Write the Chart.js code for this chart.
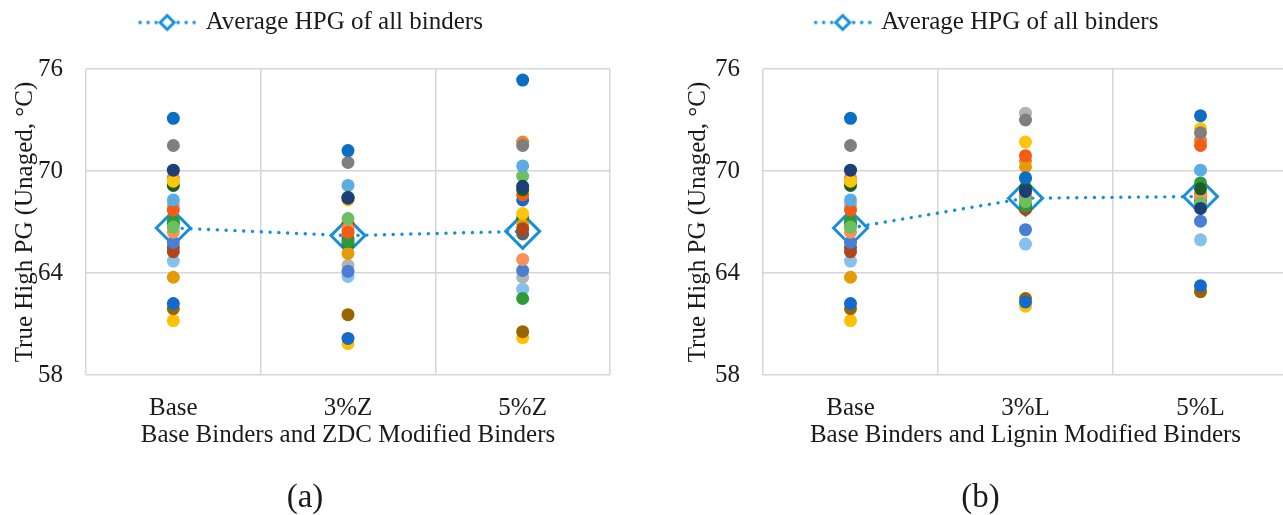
<!DOCTYPE html>
<html>
<head>
<meta charset="utf-8">
<script src="https://cdn.jsdelivr.net/npm/chart.js@4.4.0/dist/chart.umd.min.js"></script>
<style>
html,body{margin:0;padding:0;background:#fff;overflow:hidden;width:1283px;height:515px}
canvas{position:absolute;top:0}
#chartA{left:0}
#chartB{left:660px}
</style>
</head>
<body>
<canvas id="chartA" width="620" height="515"></canvas>
<canvas id="chartB" width="640" height="515"></canvas>
<script>
// categories
const zdcCats    = ['Base','3%Z','5%Z'];
const ligninCats = ['Base','3%L','5%L'];

// one colour per binder
const binderColors = ['#0a6fc2','#7f7f7f','#1c3f7a','#ffc40c','#1e5e22','#5aade3','#f25c14',
  '#6cbf5e','#2f9a3a','#f7925c','#4a7ed3','#b4441a','#85c1ee','#e39c06',
  '#1568cc','#9a6403','#ffc000','#b3b3b3','#5f5f5f','#f2822e','#2d7a2f'];

// true high PG per binder (°C)
const baseHpg = [73.1,71.5,70.05,69.4,69.15,68.3,67.7,66.7,67.05,66.4,65.8,65.25,64.7,63.75,62.2,61.9,61.2,68.0,65.5,69.6,66.9];
const zdc3Hpg = [71.2,70.5,68.4,68.3,68.45,69.15,66.4,67.2,65.85,66.6,64.1,66.9,63.8,65.15,60.15,61.55,59.85,64.45,66.0,66.7,65.7];
const zdc5Hpg = [75.35,71.5,69.1,67.5,68.9,70.3,68.6,69.7,62.5,64.8,64.15,66.6,63.05,66.85,68.3,60.55,60.2,63.75,66.3,71.7,67.25];
const lig3Hpg = [69.6,73.0,68.8,71.7,69.0,69.55,70.9,68.2,67.95,68.6,66.55,67.75,65.7,70.25,62.3,62.5,62.05,73.4,68.5,70.6,68.0];
const lig5Hpg = [73.25,72.25,67.8,72.5,68.95,70.05,71.5,68.1,69.3,68.45,67.05,68.3,65.95,68.6,63.25,62.9,63.0,68.2,68.6,71.8,68.15];

// averages of all binders
const avgZdc    = [66.65,66.2,66.45];
const avgLignin = [66.65,68.4,68.5];

const avgLabel  = 'Average HPG of all binders';
const avgColor  = '#1790d8';
const gridColor = '#d6d6d6';
const txtColor  = '#1a1a1a';
const serif     = "'Liberation Serif','Times New Roman',serif";

// legend icon: dotted line with a diamond (drawn a bit right of the box centre)
const icon = document.createElement('canvas');
icon.width = 72; icon.height = 20;
(() => {
  const c = icon.getContext('2d');
  const cx = 43;
  c.fillStyle = avgColor;
  [-27,-19,-11,11,19,27].forEach(d => { c.beginPath(); c.arc(cx+d,10,1.8,0,Math.PI*2); c.fill(); });
  c.strokeStyle = avgColor; c.lineWidth = 3;
  c.beginPath(); c.moveTo(cx-7,10); c.lineTo(cx,3); c.lineTo(cx+7,10); c.lineTo(cx,17); c.closePath(); c.stroke();
})();

// push chart area down below the legend
const legendGap = {id:'legendGap', beforeInit(chart){
  const fit = chart.legend.fit;
  chart.legend.fit = function(){ fit.call(this); this.height += 24; };
}};

function makeChart(id, cats, cols, avg, xTitle, tag, yWidth, pad){
  const sets = binderColors.map((c,i) => ({
    label:'Binder '+(i+1), data:cols.map(col=>col[i]), showLine:false,
    pointRadius:6.5, pointHoverRadius:6.5, pointBorderWidth:0,
    pointBackgroundColor:c, borderColor:c, backgroundColor:c, order:0
  }));
  sets.push({
    label:avgLabel, data:avg, borderColor:avgColor, borderWidth:3.4,
    borderDash:[0.1,8.7], borderCapStyle:'round', tension:0, fill:false,
    pointStyle:'rectRot', pointRadius:17, pointHoverRadius:17, pointBorderWidth:3,
    pointBorderColor:avgColor, pointBackgroundColor:'rgba(0,0,0,0)', order:1
  });
  return new Chart(document.getElementById(id), {
    type:'line',
    data:{labels:cats, datasets:sets},
    plugins:[legendGap],
    options:{
      responsive:false, animation:false, devicePixelRatio:1,
      layout:{padding:pad, autoPadding:false},
      scales:{
        x:{
          offset:true,
          grid:{offset:true,color:gridColor,lineWidth:1.5,drawTicks:false},
          border:{display:false},
          ticks:{padding:18,color:txtColor,font:{family:serif,size:25}},
          title:{display:true,text:xTitle,color:txtColor,font:{family:serif,size:25},padding:{top:0,bottom:31.5}},
          afterFit:s=>{ s.height = 107; }
        },
        y:{
          min:58, max:76,
          grid:{color:gridColor,lineWidth:1.5,drawTicks:false},
          border:{display:false},
          ticks:{stepSize:6,padding:23,color:txtColor,font:{family:serif,size:25}},
          title:{display:true,text:'True High PG (Unaged, °C)',color:txtColor,font:{family:serif,size:25},padding:{top:10,bottom:0}},
          afterFit:s=>{ s.width = yWidth; }
        }
      },
      plugins:{
        legend:{
          position:'top',
          labels:{
            filter:item=>item.text===avgLabel,
            usePointStyle:true, pointStyle:icon, pointStyleWidth:66,
            padding:10, color:txtColor, font:{family:serif,size:25}
          }
        },
        title:{display:true,position:'bottom',text:tag,color:txtColor,font:{family:serif,size:33,lineHeight:1,weight:'normal'},padding:0},
        tooltip:{enabled:false}
      }
    }
  });
}

makeChart('chartA', zdcCats, [baseHpg,zdc3Hpg,zdc5Hpg], avgZdc,
  'Base Binders and ZDC Modified Binders', '(a)', 86, {left:0,right:10,top:0,bottom:0});
makeChart('chartB', ligninCats, [baseHpg,lig3Hpg,lig5Hpg], avgLignin,
  'Base Binders and Lignin Modified Binders', '(b)', 90, {left:13,right:12,top:0,bottom:0});
</script>
</body>
</html>
